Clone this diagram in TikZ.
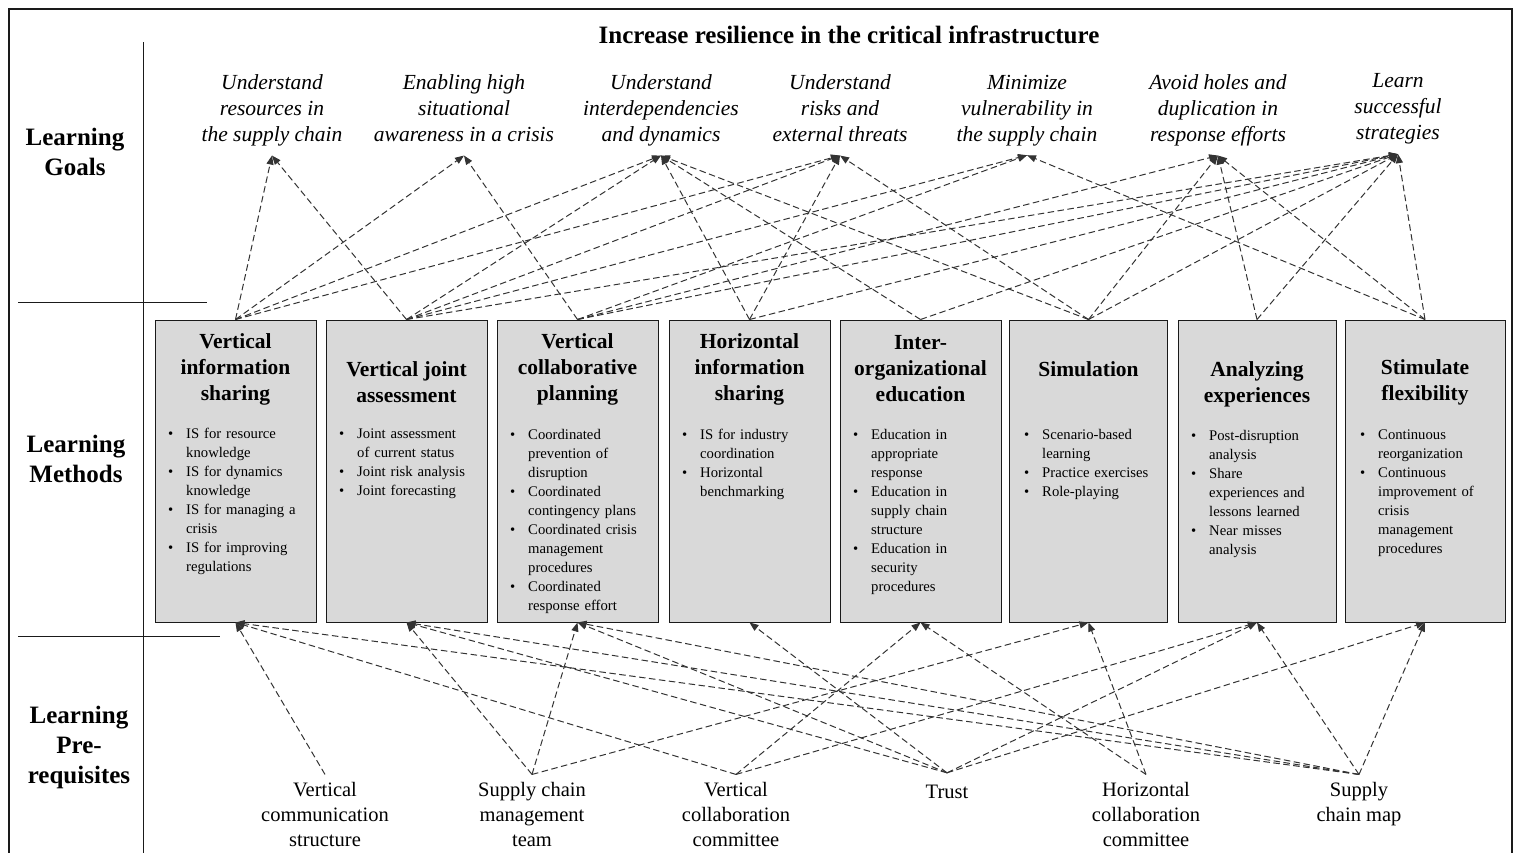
\documentclass[tikz,border=0pt]{standalone}
\usepackage{fontspec}
\setmainfont{Liberation Serif}
\usetikzlibrary{arrows.meta}
\definecolor{boxgray}{HTML}{D9D9D9}
\definecolor{ink}{HTML}{1A1A1A}
% bullet item with hanging indent
\newcommand\bitem{\par\noindent\hangindent=18pt\hangafter=1\makebox[18pt][l]{\textbullet}\ignorespaces}
\begin{document}
\begin{tikzpicture}[x=1pt,y=-1pt,
  frame/.style={line width=1.5pt, draw=ink},
  rule/.style={line width=0.9pt, draw=ink},
  sidelabel/.style={font=\fontsize{25}{30}\selectfont\bfseries, align=center, inner sep=0pt},
  headline/.style={font=\fontsize{25}{30}\selectfont\bfseries, inner sep=0pt},
  goal/.style={font=\fontsize{21.5}{26}\selectfont\itshape, align=center, inner xsep=0pt, inner ysep=6.2pt,
    execute at begin node=\strut, execute at end node=\strut},
  mbox/.style={draw=ink, line width=1pt, fill=boxgray, minimum width=161pt, minimum height=302pt, inner sep=0pt},
  mtitle/.style={font=\fontsize{21.5}{26}\selectfont\bfseries, align=center, inner sep=0pt},
  bul/.style={font=\fontsize{14.7}{19}\selectfont, text width=150pt, align=left, anchor=north west, inner sep=0pt},
  prereq/.style={font=\fontsize{20.5}{25}\selectfont, align=center, inner xsep=0pt, inner ysep=7.5pt,
    execute at begin node=\strut, execute at end node=\strut},
  link/.style={draw=black!80, line width=1pt, dash pattern=on 6.5pt off 3.5pt, -{Triangle[length=9pt,width=7pt]}}
]
\useasboundingbox (0,0) rectangle (1515,852);
\clip (0,0) rectangle (1515,852);

% outer frame and row separators
\draw[frame] (9,9) rectangle (1512,880);
\draw[rule] (143,42) -- (143,860);
\draw[rule] (18,302) -- (207,302);
\draw[rule] (18,636) -- (220,636);

% row labels
\node[sidelabel] (lg) at (75,152) {Learning\\Goals};
\node[sidelabel] (lm) at (76,459) {Learning\\Methods};
\node[sidelabel] (lp) at (79,747) {Learning\\Pre-\\requisites};

\node[headline] (head) at (849,35) {Increase resilience in the critical infrastructure};

% learning goals
\node[goal] (g1) at (272,111.8) {Understand\\resources in\\the supply chain};
\node[goal] (g2) at (464,111.8) {Enabling high\\situational\\awareness in a crisis};
\node[goal] (g3) at (661,111.8) {Understand\\interdependencies\\and dynamics};
\node[goal] (g4) at (840,111.8) {Understand\\risks and\\external threats};
\node[goal] (g5) at (1027,111.8) {Minimize\\vulnerability in\\the supply chain};
\node[goal] (g6) at (1218,111.8) {Avoid holes and\\duplication in\\response efforts};
\node[goal] (g7) at (1398,110.8) {Learn\\successful\\strategies};

% learning methods
\node[mbox] (m1) at (235.5,471) {};
\node[mbox] (m2) at (406.5,471) {};
\node[mbox] (m3) at (577.5,471) {};
\node[mbox] (m4) at (749.5,471) {};
\node[mbox] (m5) at (920.5,471) {};
\node[mbox, minimum width=158pt] (m6) at (1088.5,471) {};
\node[mbox, minimum width=158pt] (m7) at (1257,471) {};
\node[mbox, minimum width=160pt] (m8) at (1425,471) {};

\node[mtitle] (t1) at (235.5,369) {Vertical\\information\\sharing};
\node[mtitle] (t2) at (406.5,382) {Vertical joint\\assessment};
\node[mtitle] (t3) at (577.5,369) {Vertical\\collaborative\\planning};
\node[mtitle] (t4) at (749.5,369) {Horizontal\\information\\sharing};
\node[mtitle] (t5) at (920.5,369) {Inter-\\organizational\\education};
\node[mtitle] (t6) at (1088.5,369) {Simulation};
\node[mtitle] (t7) at (1257,384) {Analyzing\\experiences};
\node[mtitle] (t8) at (1425,382) {Stimulate\\flexibility};

\node[bul] (b1) at (168,419) {\bitem IS for resource\newline knowledge
  \bitem IS for dynamics\newline knowledge
  \bitem IS for managing a\newline crisis
  \bitem IS for improving\newline regulations\par};
\node[bul] (b2) at (339,419) {\bitem Joint assessment\newline of current status
  \bitem Joint risk analysis
  \bitem Joint forecasting\par};
\node[bul] (b3) at (510,420) {\bitem Coordinated\newline prevention of\newline disruption
  \bitem Coordinated\newline contingency plans
  \bitem Coordinated crisis\newline management\newline procedures
  \bitem Coordinated\newline response effort\par};
\node[bul] (b4) at (682,420) {\bitem IS for industry\newline coordination
  \bitem Horizontal\newline benchmarking\par};
\node[bul] (b5) at (853,420) {\bitem Education in\newline appropriate\newline response
  \bitem Education in\newline supply chain\newline structure
  \bitem Education in\newline security\newline procedures\par};
\node[bul] (b6) at (1024,420) {\bitem Scenario-based\newline learning
  \bitem Practice exercises
  \bitem Role-playing\par};
\node[bul] (b7) at (1191,421) {\bitem Post-disruption\newline analysis
  \bitem Share\newline experiences and\newline lessons learned
  \bitem Near misses\newline analysis\par};
\node[bul] (b8) at (1360,420) {\bitem Continuous\newline reorganization
  \bitem Continuous\newline improvement of\newline crisis\newline management\newline procedures\par};

% learning prerequisites
\node[prereq] (p1) at (325,818) {Vertical\\communication\\structure};
\node[prereq] (p2) at (532,818) {Supply chain\\management\\team};
\node[prereq] (p3) at (736,818) {Vertical\\collaboration\\committee};
\node[prereq] (p4) at (947,793) {Trust};
\node[prereq] (p5) at (1146,818) {Horizontal\\collaboration\\committee};
\node[prereq] (p6) at (1359,805.5) {Supply\\chain map};

% methods -> goals
\foreach \m/\g in {m1/g1,m1/g2,m1/g3,m1/g4,
                   m2/g1,m2/g3,m2/g4,m2/g5,m2/g7,
                   m3/g2,m3/g5,m3/g6,m3/g7,
                   m4/g3,m4/g4,m4/g7,
                   m5/g3,m5/g7,
                   m6/g3,m6/g4,m6/g6,m6/g7,
                   m7/g6,m7/g7,
                   m8/g5,m8/g6,m8/g7}
  \draw[link] (\m.north) -- (\g.south);

% prerequisites -> methods
\foreach \p/\m in {p1/m1,
                   p2/m2,p2/m3,p2/m6,
                   p3/m1,p3/m5,p3/m7,
                   p4/m2,p4/m3,p4/m4,p4/m7,p4/m8,
                   p5/m5,p5/m6,
                   p6/m1,p6/m2,p6/m3,p6/m7,p6/m8}
  \draw[link] (\p.north) -- (\m.south);
\end{tikzpicture}
\end{document}
